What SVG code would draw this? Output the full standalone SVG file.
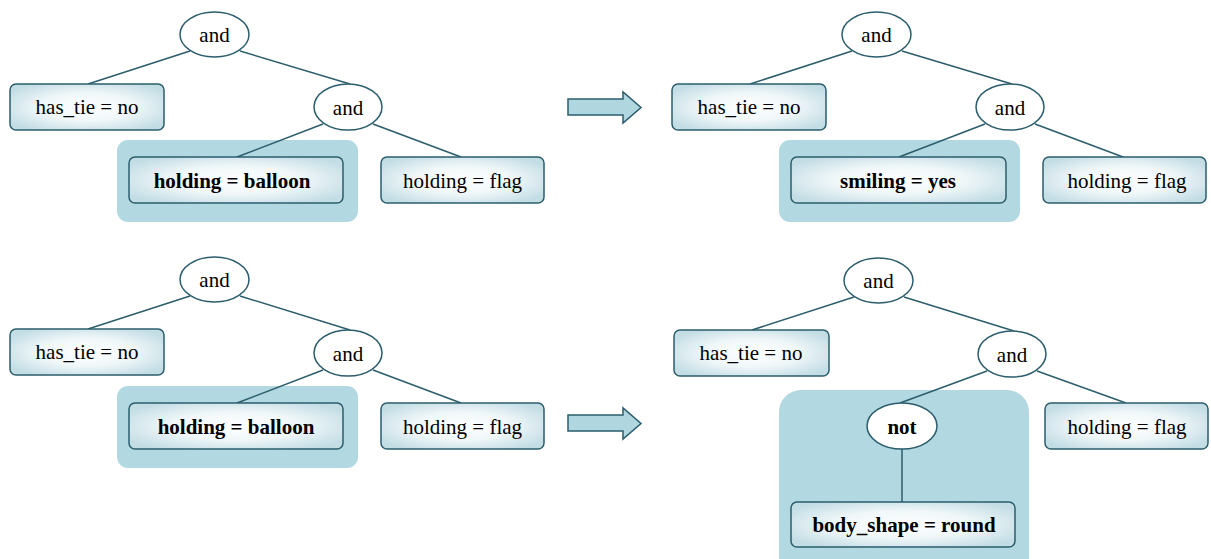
<svg xmlns="http://www.w3.org/2000/svg" width="1211" height="559" viewBox="0 0 1211 559" font-family="'Liberation Serif', 'Times New Roman', Times, serif">
<defs>
<radialGradient id="bg" cx="50%" cy="50%" r="60%">
<stop offset="0" stop-color="#ffffff"/>
<stop offset="0.5" stop-color="#f0f7f9"/>
<stop offset="1" stop-color="#c3dde5"/>
</radialGradient>
</defs>
<style>
.box{fill:url(#bg);stroke:#2b5d6c;stroke-width:1.5}
.ell{fill:#ffffff;stroke:#2b5d6c;stroke-width:1.5}
.hl{fill:#b2d8e1;stroke:none}
.ln{stroke:#2b5d6c;stroke-width:1.5;fill:none}
.arr{fill:#b0d6e0;stroke:#2b5d6c;stroke-width:1.5;stroke-linejoin:miter}
text{font-family:'Liberation Serif',serif;font-size:21px;fill:#000;text-anchor:middle}
.b{font-weight:bold}
</style>
<rect width="1211" height="559" fill="#ffffff"/>

<!-- highlights -->
<g id="highlights">
<rect class="hl" x="117" y="140" width="241" height="82" rx="11"/>
<rect class="hl" x="779" y="140" width="241" height="82" rx="11"/>
<rect class="hl" x="117" y="386" width="241" height="82" rx="11"/>
<rect class="hl" x="779" y="390" width="250" height="190" rx="22"/>
</g>

<!-- connectors -->
<g id="connectors">
<line class="ln" x1="190" y1="51" x2="88" y2="84"/>
<line class="ln" x1="240" y1="51" x2="350" y2="84"/>
<line class="ln" x1="323" y1="124" x2="237" y2="157"/>
<line class="ln" x1="373" y1="124" x2="461" y2="157"/>

<line class="ln" x1="852" y1="51" x2="750" y2="84"/>
<line class="ln" x1="902" y1="51" x2="1012" y2="84"/>
<line class="ln" x1="985" y1="124" x2="899" y2="157"/>
<line class="ln" x1="1035" y1="124" x2="1123" y2="157"/>

<line class="ln" x1="190" y1="296" x2="88" y2="329"/>
<line class="ln" x1="240" y1="296" x2="350" y2="330"/>
<line class="ln" x1="323" y1="370" x2="237" y2="403"/>
<line class="ln" x1="373" y1="370" x2="461" y2="403"/>

<line class="ln" x1="854" y1="297" x2="752" y2="330"/>
<line class="ln" x1="904" y1="297" x2="1014" y2="331"/>
<line class="ln" x1="987" y1="371" x2="900" y2="403"/>
<line class="ln" x1="1037" y1="371" x2="1126" y2="403"/>
<line class="ln" x1="902" y1="449" x2="902" y2="502"/>

<path class="arr" d="M568,99 H623 V92 L641,107.5 L623,123 V115 H568 Z"/>
<path class="arr" d="M568,415 H623 V408 L641,423.5 L623,439 V431 H568 Z"/>
</g>

<!-- panel 1 -->
<g id="p1-and-top"><ellipse class="ell" cx="214.5" cy="34.5" rx="34.5" ry="22.5"/><text x="214.5" y="42">and</text></g>
<g id="p1-has-tie"><rect class="box" x="10" y="84" width="154" height="46" rx="6"/><text x="87" y="114">has_tie = no</text></g>
<g id="p1-and-2"><ellipse class="ell" cx="348" cy="107" rx="34" ry="23"/><text x="348" y="114.5">and</text></g>
<g id="p1-balloon"><rect class="box" x="129" y="157" width="214" height="46" rx="6"/><text class="b" x="232" y="187.5">holding = balloon</text></g>
<g id="p1-flag"><rect class="box" x="381" y="157" width="163" height="46" rx="6"/><text x="462.5" y="187.5">holding = flag</text></g>

<!-- panel 2 -->
<g id="p2-and-top"><ellipse class="ell" cx="876.5" cy="34.5" rx="34.5" ry="22.5"/><text x="876.5" y="42">and</text></g>
<g id="p2-has-tie"><rect class="box" x="672" y="84" width="154" height="46" rx="6"/><text x="749" y="114">has_tie = no</text></g>
<g id="p2-and-2"><ellipse class="ell" cx="1010" cy="107" rx="34" ry="23"/><text x="1010" y="114.5">and</text></g>
<g id="p2-smiling"><rect class="box" x="791" y="157" width="215" height="46" rx="6"/><text class="b" x="898" y="187.5">smiling = yes</text></g>
<g id="p2-flag"><rect class="box" x="1043" y="157" width="163" height="46" rx="6"/><text x="1127" y="187.5">holding = flag</text></g>

<!-- panel 3 -->
<g id="p3-and-top"><ellipse class="ell" cx="214.5" cy="279.5" rx="34.5" ry="22.5"/><text x="214.5" y="287">and</text></g>
<g id="p3-has-tie"><rect class="box" x="10" y="329" width="154" height="46" rx="6"/><text x="87" y="359">has_tie = no</text></g>
<g id="p3-and-2"><ellipse class="ell" cx="348" cy="353" rx="34" ry="23"/><text x="348" y="360.5">and</text></g>
<g id="p3-balloon"><rect class="box" x="129" y="403" width="214" height="46" rx="6"/><text class="b" x="236" y="433.5">holding = balloon</text></g>
<g id="p3-flag"><rect class="box" x="381" y="403" width="163" height="46" rx="6"/><text x="462.5" y="433.5">holding = flag</text></g>

<!-- panel 4 -->
<g id="p4-and-top"><ellipse class="ell" cx="878.5" cy="280.5" rx="34.5" ry="22.5"/><text x="878.5" y="288">and</text></g>
<g id="p4-has-tie"><rect class="box" x="674" y="330" width="155" height="46" rx="6"/><text x="751" y="360">has_tie = no</text></g>
<g id="p4-and-2"><ellipse class="ell" cx="1012" cy="354" rx="34" ry="23"/><text x="1012" y="361.5">and</text></g>
<g id="p4-not"><ellipse class="ell" cx="902" cy="426" rx="35" ry="23"/><text class="b" x="902" y="433.5">not</text></g>
<g id="p4-body"><rect class="box" x="791" y="502" width="224" height="45" rx="6"/><text class="b" x="904" y="532">body_shape = round</text></g>
<g id="p4-flag"><rect class="box" x="1045" y="403" width="163" height="46" rx="6"/><text x="1127" y="433.5">holding = flag</text></g>
</svg>
